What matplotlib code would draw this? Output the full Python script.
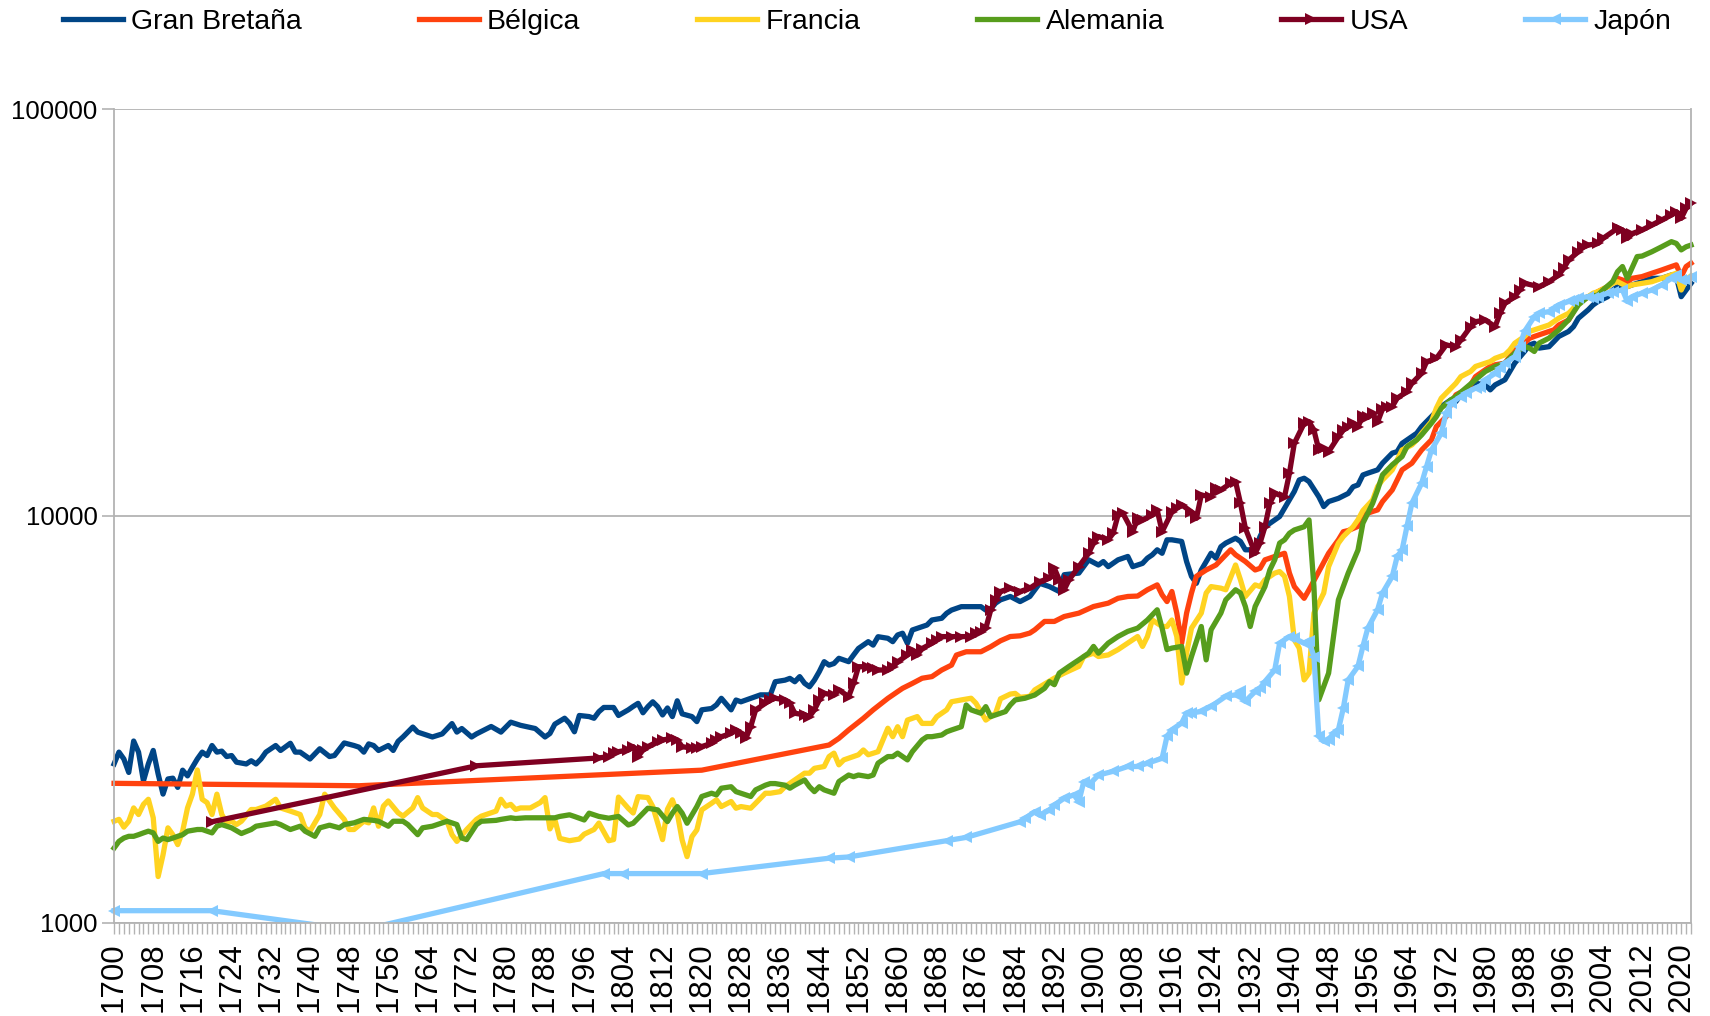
import matplotlib
matplotlib.use("Agg")
import matplotlib.pyplot as plt
from matplotlib.ticker import FixedLocator, MultipleLocator, NullLocator
from matplotlib.transforms import Bbox, TransformedBbox

plt.rcParams['font.family'] = ['Liberation Sans', 'DejaVu Sans']

# PIB per capita
gb_years = [1700, 1701, 1702, 1703, 1704, 1705, 1706, 1707, 1708, 1709, 1710, 1711, 1712, 1713, 1714,
            1715, 1716, 1717, 1718, 1719, 1720, 1721, 1722, 1723, 1724, 1725, 1727, 1728, 1729, 1730,
            1731, 1733, 1734, 1736, 1737, 1738, 1740, 1742, 1744, 1745, 1747, 1749, 1750, 1751, 1752,
            1753, 1754, 1756, 1757, 1758, 1759, 1761, 1762, 1765, 1767, 1769, 1770, 1771, 1773, 1774,
            1777, 1779, 1781, 1783, 1786, 1788, 1789, 1790, 1792, 1793, 1794, 1795, 1797, 1798, 1799,
            1800, 1802, 1803, 1805, 1806, 1807, 1808, 1809, 1810, 1811, 1812, 1813, 1814, 1815, 1816,
            1818, 1819, 1820, 1822, 1823, 1824, 1826, 1827, 1828, 1830, 1832, 1834, 1835, 1837, 1838,
            1839, 1840, 1841, 1842, 1843, 1844, 1845, 1846, 1847, 1848, 1850, 1851, 1852, 1854, 1855,
            1856, 1858, 1859, 1860, 1861, 1862, 1863, 1865, 1866, 1867, 1869, 1870, 1871, 1873, 1875,
            1877, 1878, 1879, 1880, 1881, 1883, 1885, 1887, 1889, 1891, 1893, 1894, 1897, 1899, 1901,
            1902, 1903, 1905, 1907, 1908, 1910, 1911, 1912, 1913, 1914, 1915, 1916, 1918, 1919, 1920,
            1921, 1922, 1923, 1924, 1925, 1926, 1927, 1929, 1930, 1931, 1933, 1934, 1935, 1937, 1938,
            1939, 1941, 1942, 1943, 1944, 1946, 1947, 1948, 1950, 1952, 1953, 1954, 1955, 1956, 1958,
            1959, 1961, 1962, 1963, 1965, 1966, 1967, 1969, 1970, 1971, 1973, 1974, 1975, 1977, 1978,
            1980, 1981, 1982, 1984, 1985, 1986, 1988, 1989, 1990, 1991, 1993, 1994, 1995, 1997, 1998,
            1999, 2001, 2002, 2003, 2005, 2006, 2007, 2009, 2010, 2012, 2013, 2014, 2016, 2017, 2018,
            2019, 2020, 2021, 2022]
gb_gdp = [2455, 2625, 2525, 2340, 2795, 2625, 2230, 2455, 2650, 2320, 2070, 2255, 2265, 2150, 2370,
          2295, 2410, 2525, 2625, 2575, 2725, 2625, 2640, 2560, 2575, 2480, 2455, 2500, 2455, 2525,
          2625, 2725, 2650, 2760, 2625, 2625, 2525, 2675, 2560, 2575, 2765, 2725, 2700, 2625, 2750,
          2725, 2650, 2725, 2650, 2790, 2860, 3025, 2940, 2860, 2910, 3085, 2940, 3000, 2860, 2910,
          3035, 2940, 3110, 3055, 3000, 2860, 2917, 3075, 3180, 3090, 2945, 3230, 3210, 3180, 3300,
          3380, 3380, 3230, 3335, 3400, 3460, 3280, 3395, 3490, 3395, 3240, 3370, 3210, 3510, 3260,
          3210, 3120, 3335, 3360, 3430, 3560, 3335, 3525, 3490, 3560, 3630, 3630, 3910, 3945, 3985,
          3910, 4025, 3875, 3800, 3945, 4140, 4380, 4295, 4335, 4465, 4380, 4550, 4720, 4905, 4810,
          5045, 5000, 4905, 5095, 5145, 4860, 5240, 5340, 5390, 5545, 5600, 5760, 5865, 5980, 5980,
          5980, 5865, 5900, 6100, 6215, 6335, 6155, 6335, 6825, 6700, 6515, 7165, 7230, 7795, 7570,
          7720, 7500, 7795, 7945, 7500, 7640, 7870, 8020, 8250, 8090, 8730, 8730, 8650, 7720, 7100,
          6825, 7360, 7720, 8090, 7870, 8395, 8570, 8810, 8650, 8250, 8250, 8895, 9400, 9770, 9960,
          10440, 11480, 12250, 12370, 12140, 11140, 10540, 10840, 11040, 11350, 11790, 11910, 12600, 12730, 12970,
          13470, 14260, 14380, 15070, 15660, 15960, 16570, 17530, 18030, 18560, 19290, 19100, 19840, 20790, 21180,
          20980, 20400, 20980, 21600, 22640, 23730, 25350, 26300, 26560, 25840, 26050, 26800, 27600, 28390, 29180,
          30600, 32080, 32990, 33640, 34570, 35900, 36590, 36590, 36960, 37630, 38010, 38360, 38360, 38730, 39080,
          38730, 34570, 35900, 37280]

be_years = [1700, 1750, 1820, 1846, 1848, 1850, 1853, 1855, 1858, 1860, 1861, 1863, 1865, 1867, 1869,
            1871, 1872, 1874, 1877, 1879, 1881, 1883, 1885, 1887, 1888, 1890, 1892, 1894, 1897, 1900,
            1903, 1905, 1907, 1909, 1911, 1913, 1914, 1915, 1916, 1917, 1918, 1919, 1920, 1921, 1923,
            1925, 1928, 1929, 1931, 1933, 1934, 1935, 1937, 1939, 1940, 1941, 1943, 1944, 1946, 1948,
            1950, 1951, 1952, 1954, 1955, 1957, 1958, 1959, 1961, 1962, 1963, 1965, 1966, 1967, 1969,
            1970, 1972, 1973, 1974, 1976, 1977, 1978, 1980, 1981, 1982, 1984, 1985, 1986, 1988, 1989,
            1990, 1991, 1993, 1994, 1995, 1997, 1998, 1999, 2001, 2002, 2003, 2005, 2006, 2007, 2009,
            2010, 2012, 2014, 2016, 2018, 2019, 2020, 2021, 2022]
be_gdp = [2200, 2170, 2370, 2733, 2838, 2976, 3178, 3334, 3559, 3697, 3767, 3873, 3988, 4025, 4178,
          4296, 4547, 4633, 4633, 4767, 4930, 5050, 5070, 5150, 5245, 5500, 5500, 5655, 5765, 5985,
          6100, 6270, 6335, 6350, 6580, 6765, 6395, 6155, 6515, 5765, 4865, 5765, 6460, 7100, 7360,
          7570, 8250, 8020, 7720, 7360, 7430, 7795, 7945, 8090, 7230, 6700, 6270, 6580, 7295, 8090,
          8730, 9140, 9200, 9420, 10050, 10250, 10340, 10840, 11580, 12250, 12970, 13470, 13990, 14520, 15370,
          16570, 17530, 18910, 19840, 20400, 20980, 21990, 22860, 23290, 23510, 23730, 24620, 25570, 26560, 27300,
          27600, 27860, 28390, 28650, 29450, 30290, 31770, 33290, 34570, 34890, 35570, 36590, 37630, 38360, 37630,
          38360, 38730, 39470, 40200, 41000, 41390, 38730, 41000, 41790]

fr_years = [1700, 1701, 1702, 1703, 1704, 1705, 1706, 1707, 1708, 1709, 1710, 1711, 1712, 1713, 1714,
            1715, 1716, 1717, 1718, 1719, 1720, 1721, 1722, 1723, 1724, 1725, 1726, 1728, 1729, 1731,
            1733, 1734, 1736, 1738, 1739, 1740, 1742, 1743, 1745, 1747, 1748, 1749, 1751, 1752, 1753,
            1754, 1755, 1756, 1758, 1759, 1761, 1762, 1763, 1765, 1766, 1768, 1769, 1770, 1772, 1774,
            1775, 1777, 1778, 1779, 1780, 1781, 1782, 1783, 1785, 1787, 1788, 1789, 1790, 1791, 1793,
            1795, 1796, 1798, 1799, 1801, 1802, 1803, 1805, 1806, 1807, 1809, 1810, 1812, 1813, 1814,
            1815, 1816, 1817, 1818, 1819, 1820, 1822, 1823, 1824, 1826, 1827, 1828, 1830, 1831, 1833,
            1834, 1836, 1837, 1839, 1841, 1842, 1843, 1845, 1846, 1847, 1848, 1849, 1850, 1852, 1853,
            1854, 1856, 1857, 1858, 1859, 1860, 1861, 1862, 1864, 1865, 1867, 1868, 1869, 1870, 1871,
            1873, 1875, 1876, 1877, 1878, 1880, 1881, 1883, 1884, 1885, 1887, 1888, 1890, 1892, 1894,
            1897, 1898, 1900, 1901, 1903, 1905, 1907, 1909, 1910, 1911, 1912, 1914, 1915, 1916, 1917,
            1918, 1919, 1920, 1922, 1923, 1924, 1926, 1927, 1929, 1930, 1931, 1933, 1934, 1935, 1937,
            1938, 1939, 1940, 1941, 1942, 1943, 1944, 1945, 1947, 1948, 1950, 1951, 1953, 1954, 1955,
            1957, 1958, 1959, 1961, 1962, 1963, 1965, 1966, 1967, 1969, 1970, 1971, 1973, 1974, 1975,
            1977, 1978, 1980, 1981, 1982, 1984, 1985, 1986, 1988, 1989, 1990, 1991, 1993, 1994, 1995,
            1997, 1998, 1999, 2001, 2002, 2003, 2005, 2006, 2007, 2009, 2010, 2012, 2014, 2016, 2018,
            2019, 2020, 2021, 2022]
fr_gdp = [1775, 1794, 1717, 1775, 1914, 1844, 1953, 2010, 1810, 1298, 1468, 1710, 1645, 1555, 1678,
          1914, 2069, 2373, 2010, 1972, 1844, 2069, 1844, 1759, 1775, 1742, 1775, 1897, 1897, 1934,
          2010, 1914, 1880, 1844, 1710, 1678, 1844, 2069, 1914, 1794, 1694, 1694, 1775, 1759, 1914,
          1726, 1934, 1991, 1862, 1827, 1914, 2029, 1914, 1844, 1844, 1775, 1645, 1584, 1694, 1794,
          1827, 1862, 1880, 2010, 1934, 1953, 1897, 1914, 1914, 1972, 2029, 1700, 1794, 1611, 1590,
          1605, 1650, 1694, 1757, 1590, 1600, 2035, 1910, 1860, 2040, 2030, 1930, 1600, 1900, 2004,
          1858, 1596, 1453, 1627, 1690, 1893, 1965, 2004, 1929, 1985, 1911, 1929, 1911, 1965, 2080,
          2080, 2099, 2158, 2243, 2330, 2330, 2395, 2420, 2560, 2610, 2443, 2512, 2536, 2586, 2657,
          2586, 2632, 2812, 3005, 2865, 3031, 2865, 3147, 3210, 3088, 3088, 3210, 3271, 3334, 3491,
          3527, 3561, 3461, 3302, 3147, 3271, 3550, 3646, 3660, 3580, 3600, 3733, 3860, 3990, 4105,
          4265, 4510, 4595, 4510, 4550, 4690, 4865, 5050, 4775, 5050, 5545, 5345, 5345, 5545, 5050,
          3880, 4595, 5295, 5765, 6460, 6700, 6640, 6580, 7570, 6960, 6335, 6765, 6700, 6960, 7230,
          7295, 7100, 6335, 4955, 4730, 3950, 4105, 5765, 6460, 7500, 8570, 8895, 9400, 9780, 10300,
          10940, 11800, 12250, 12970, 13730, 14520, 14940, 15370, 15960, 17050, 18390, 19460, 20600, 21180, 21990,
          22640, 23290, 23730, 23940, 24390, 24880, 25570, 26560, 27600, 28390, 28650, 28920, 29450, 30010, 30600,
          31460, 32380, 33950, 34570, 35250, 35570, 36590, 37280, 37630, 36590, 36960, 37280, 37630, 38360, 39080,
          39470, 35900, 38010, 38900]

de_years = [1700, 1701, 1702, 1703, 1704, 1705, 1706, 1707, 1708, 1709, 1710, 1711, 1712, 1713, 1714,
            1715, 1717, 1718, 1720, 1721, 1722, 1724, 1726, 1728, 1729, 1731, 1733, 1734, 1736, 1738,
            1739, 1741, 1742, 1744, 1746, 1747, 1749, 1751, 1753, 1754, 1756, 1757, 1759, 1760, 1762,
            1763, 1765, 1767, 1768, 1770, 1771, 1772, 1774, 1775, 1778, 1779, 1781, 1782, 1784, 1786,
            1788, 1790, 1791, 1793, 1794, 1796, 1797, 1799, 1801, 1803, 1805, 1806, 1807, 1809, 1811,
            1813, 1814, 1815, 1816, 1817, 1819, 1820, 1822, 1823, 1824, 1826, 1827, 1828, 1830, 1831,
            1833, 1834, 1835, 1837, 1838, 1839, 1841, 1842, 1843, 1844, 1845, 1847, 1848, 1850, 1851,
            1852, 1854, 1855, 1856, 1858, 1859, 1860, 1862, 1863, 1865, 1866, 1867, 1869, 1870, 1871,
            1873, 1874, 1875, 1877, 1878, 1879, 1880, 1882, 1883, 1884, 1886, 1887, 1888, 1890, 1891,
            1892, 1893, 1895, 1897, 1899, 1900, 1901, 1903, 1905, 1907, 1909, 1911, 1913, 1914, 1915,
            1916, 1918, 1919, 1920, 1922, 1923, 1924, 1926, 1927, 1929, 1930, 1931, 1932, 1933, 1935,
            1936, 1937, 1938, 1939, 1940, 1941, 1943, 1944, 1945, 1946, 1948, 1949, 1950, 1952, 1954,
            1955, 1957, 1958, 1959, 1961, 1963, 1964, 1966, 1967, 1969, 1970, 1971, 1973, 1974, 1976,
            1978, 1980, 1982, 1984, 1986, 1988, 1989, 1990, 1991, 1993, 1995, 1997, 1999, 2001, 2003,
            2004, 2006, 2007, 2008, 2009, 2011, 2012, 2014, 2016, 2018, 2019, 2020, 2021, 2022]
de_gdp = [1525, 1584, 1614, 1630, 1630, 1645, 1662, 1678, 1662, 1584, 1614, 1600, 1614, 1630, 1645,
          1678, 1694, 1694, 1662, 1726, 1742, 1710, 1656, 1694, 1726, 1742, 1759, 1742, 1694, 1726,
          1678, 1630, 1710, 1736, 1710, 1742, 1759, 1794, 1784, 1775, 1726, 1775, 1775, 1742, 1645,
          1710, 1726, 1759, 1775, 1742, 1614, 1600, 1742, 1775, 1784, 1794, 1810, 1803, 1810, 1810,
          1810, 1810, 1824, 1841, 1824, 1788, 1858, 1824, 1806, 1824, 1738, 1755, 1806, 1911, 1893,
          1772, 1858, 1929, 1858, 1755, 1929, 2042, 2080, 2061, 2140, 2158, 2099, 2080, 2042, 2120,
          2177, 2197, 2197, 2177, 2140, 2177, 2243, 2158, 2099, 2158, 2120, 2080, 2222, 2306, 2285,
          2306, 2285, 2306, 2466, 2560, 2560, 2610, 2512, 2632, 2812, 2865, 2865, 2892, 2945, 2975,
          3031, 3428, 3334, 3271, 3396, 3210, 3241, 3302, 3428, 3527, 3561, 3594, 3627, 3767, 3912,
          3845, 4105, 4265, 4425, 4595, 4775, 4595, 4865, 5050, 5200, 5295, 5545, 5875, 5295, 4690,
          4730, 4775, 4105, 4510, 5345, 4425, 5245, 5765, 6215, 6580, 6460, 5985, 5345, 5985, 6700,
          7360, 7795, 8570, 8730, 9060, 9230, 9400, 9770, 6700, 3530, 4105, 5050, 6215, 7230, 8240,
          9590, 10740, 11580, 12610, 13350, 13990, 14800, 15370, 15810, 16900, 17530, 18400, 19290, 19660, 20600,
          21600, 22640, 23290, 23730, 25100, 26080, 25840, 25350, 26580, 27340, 28640, 30320, 32990, 34570, 34890,
          35900, 37630, 39830, 41000, 38360, 43380, 43500, 44580, 45850, 47200, 46730, 45050, 45850, 46290]

us_years = [1720, 1774, 1799, 1801, 1802, 1803, 1805, 1806, 1807, 1808, 1809, 1811, 1812, 1814, 1815,
            1816, 1818, 1819, 1820, 1822, 1823, 1824, 1826, 1827, 1828, 1829, 1830, 1831, 1833, 1834,
            1835, 1837, 1838, 1839, 1841, 1842, 1843, 1844, 1845, 1847, 1848, 1850, 1851, 1852, 1854,
            1855, 1856, 1858, 1859, 1860, 1862, 1863, 1864, 1865, 1867, 1868, 1869, 1871, 1873, 1875,
            1876, 1877, 1878, 1879, 1880, 1881, 1883, 1885, 1887, 1889, 1891, 1892, 1893, 1894, 1895,
            1897, 1899, 1900, 1901, 1903, 1904, 1905, 1906, 1908, 1909, 1910, 1912, 1913, 1914, 1916,
            1917, 1918, 1920, 1921, 1922, 1924, 1925, 1926, 1928, 1929, 1930, 1931, 1933, 1934, 1935,
            1936, 1937, 1939, 1940, 1941, 1943, 1944, 1945, 1946, 1947, 1948, 1950, 1951, 1952, 1953,
            1954, 1955, 1956, 1957, 1958, 1959, 1960, 1961, 1962, 1964, 1965, 1967, 1968, 1970, 1972,
            1974, 1975, 1977, 1978, 1980, 1982, 1983, 1984, 1986, 1987, 1988, 1991, 1993, 1995, 1996,
            1997, 1999, 2000, 2001, 2003, 2004, 2007, 2008, 2009, 2010, 2012, 2014, 2016, 2018, 2019,
            2020, 2021, 2022]
us_gdp = [1770, 2430, 2540, 2560, 2610, 2632, 2657, 2708, 2560, 2657, 2708, 2786, 2812, 2839, 2812,
          2708, 2683, 2683, 2708, 2760, 2812, 2865, 2919, 2975, 2919, 2839, 3031, 3334, 3461, 3527,
          3561, 3527, 3461, 3271, 3241, 3210, 3334, 3527, 3660, 3627, 3733, 3594, 3873, 4257, 4257,
          4217, 4178, 4178, 4257, 4376, 4547, 4675, 4547, 4719, 4860, 4953, 5048, 5048, 5048, 5048,
          5145, 5190, 5285, 5865, 6210, 6515, 6640, 6515, 6640, 6890, 7025, 7430, 6960, 6580, 6960,
          7500, 8090, 8570, 8895, 8730, 9060, 10040, 10140, 9140, 9860, 9770, 10040, 10330, 9140, 10230,
          10440, 10640, 10230, 9860, 11250, 11140, 11690, 11580, 12020, 12140, 10740, 9320, 8090, 8570, 9400,
          10740, 11350, 11140, 12730, 15080, 16880, 17030, 16250, 14510, 14640, 14370, 15650, 16250, 16550, 16900,
          16570, 17600, 17450, 17860, 17000, 18300, 18540, 18560, 19460, 20200, 21180, 22400, 23920, 24380, 26300,
          26050, 27050, 29180, 30010, 30290, 29180, 31460, 33290, 34570, 35900, 37280, 36590, 37630, 39080, 40580,
          42530, 44580, 45850, 46290, 46730, 48070, 50900, 50420, 48070, 49420, 50420, 51870, 53360, 54900, 55950,
          53880, 57000, 58670]

jp_years = [1700, 1720, 1750, 1800, 1804, 1820, 1846, 1850, 1870, 1874, 1885, 1886, 1888, 1889, 1891,
            1892, 1894, 1896, 1897, 1898, 1899, 1901, 1904, 1907, 1909, 1911, 1914, 1915, 1916, 1918,
            1919, 1920, 1922, 1924, 1927, 1929, 1930, 1931, 1933, 1934, 1935, 1937, 1938, 1940, 1941,
            1943, 1944, 1945, 1946, 1947, 1948, 1949, 1950, 1951, 1952, 1954, 1955, 1956, 1958, 1959,
            1961, 1962, 1963, 1964, 1965, 1967, 1968, 1969, 1971, 1972, 1973, 1975, 1976, 1978, 1979,
            1980, 1982, 1983, 1984, 1986, 1987, 1988, 1990, 1991, 1993, 1994, 1995, 1997, 1998, 1999,
            2001, 2002, 2003, 2005, 2006, 2008, 2009, 2010, 2012, 2014, 2016, 2018, 2019, 2020, 2021,
            2022]
jp_gdp = [1070, 1070, 955, 1320, 1320, 1320, 1440, 1450, 1590, 1620, 1770, 1803, 1874, 1837, 1891,
          1946, 2022, 2061, 1983, 2220, 2178, 2305, 2355, 2420, 2420, 2465, 2535, 2870, 2980, 3095,
          3275, 3275, 3305, 3400, 3600, 3630, 3700, 3500, 3700, 3770, 3915, 4180, 4865, 5050, 5000,
          4865, 4910, 4510, 2870, 2790, 2815, 2925, 2980, 3365, 3950, 4265, 4775, 5295, 5875, 6460,
          7100, 7945, 8240, 9420, 10740, 12030, 13220, 14520, 15960, 17880, 18910, 19640, 20010, 20600, 20790,
          21600, 22400, 23060, 23730, 24620, 26060, 28390, 30880, 31460, 31770, 32380, 32990, 33640, 33950, 34280,
          34570, 34280, 34570, 35250, 35570, 35900, 33640, 34570, 35250, 35900, 36960, 38360, 39080, 38010, 38010,
          38730]

series = [
    ("Gran Bretaña", gb_years, gb_gdp, "#004586", None),
    ("Bélgica", be_years, be_gdp, "#FF420E", None),
    ("Francia", fr_years, fr_gdp, "#FFD320", None),
    ("Alemania", de_years, de_gdp, "#579D1C", None),
    ("USA", us_years, us_gdp, "#7E0021", ">"),
    ("Japón", jp_years, jp_gdp, "#83CAFF", "<"),
]

fig = plt.figure(figsize=(17.1, 10.16), dpi=100)
ax = fig.add_axes([0.0667, 0.0919, 0.9222, 0.8008])
ax.set_yscale('log')

# clip region a bit wider than the axes so end markers can stick out sideways
clip = TransformedBbox(Bbox([[-0.02, 0.0], [1.02, 1.05]]), ax.transAxes)

handles = []
for name, yrs, vals, color, mk in series:
    ln, = ax.plot(yrs, vals, color=color, lw=3.8, label=name,
                  marker=mk, markersize=9, markeredgewidth=0)
    ln.set_clip_box(clip)
    handles.append(ln)

ax.set_xlim(1700, 2022)
ax.set_ylim(1000, 100000)

ax.yaxis.set_major_locator(FixedLocator([1000, 10000, 100000]))
ax.set_yticklabels(['1000', '10000', '100000'])
ax.yaxis.set_minor_locator(NullLocator())
ax.grid(axis='y', color='#b3b3b3', lw=1.3)
ax.set_axisbelow(True)

ax.xaxis.set_major_locator(FixedLocator(list(range(1700, 2021, 8))))
ax.xaxis.set_minor_locator(MultipleLocator(1))
ax.tick_params(axis='x', which='both', direction='out', length=8, width=1,
               color='#b3b3b3', labelsize=22.5, labelrotation=90, pad=6)
ax.tick_params(axis='y', which='major', direction='out', length=9, width=1.2,
               color='#b3b3b3', labelsize=18.5, pad=3)

for side in ['left', 'bottom', 'right']:
    ax.spines[side].set_color('#b3b3b3')
    ax.spines[side].set_linewidth(1.3)
ax.spines['top'].set_visible(False)

fig.legend(handles=handles, loc='center', bbox_to_anchor=(0.507, 0.978), ncol=6,
           frameon=False, fontsize=20.5, handlelength=2.1, handletextpad=0.3,
           columnspacing=4.1, numpoints=1)

fig.savefig('out.png', dpi=100)
